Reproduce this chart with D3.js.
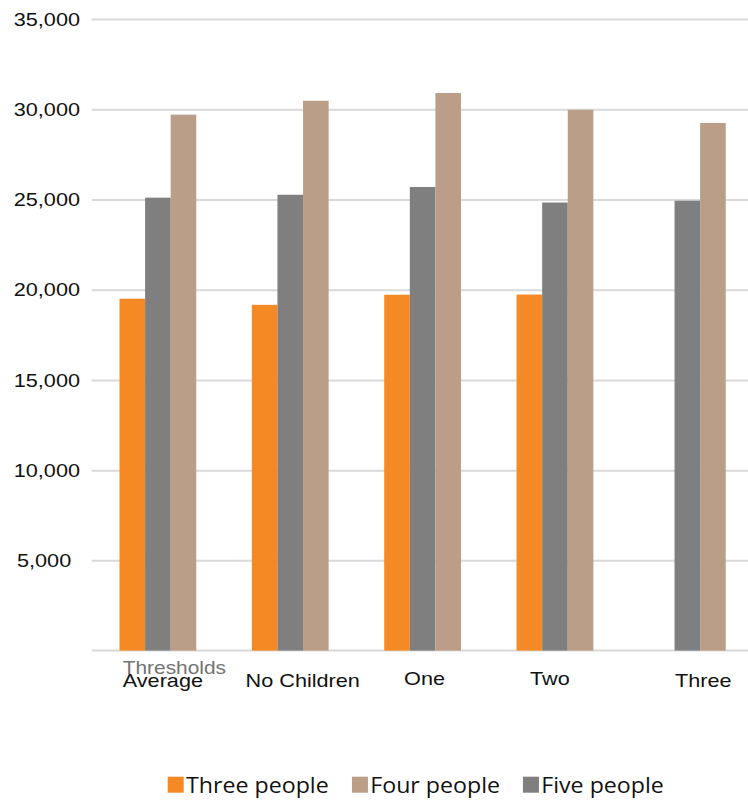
<!DOCTYPE html>
<html>
<head>
<meta charset="utf-8">
<script src="https://cdn.jsdelivr.net/npm/d3@7"></script>
<style>
  html, body { margin: 0; padding: 0; background: #fff; }
  svg { display: block; }
</style>
</head>
<body>
<svg id="chart" width="748" height="800"></svg>
<script>
// Household categories along the x axis
const categories = ["Average", "No Children", "One", "Two", "Three"];

// Threshold values per household size (null = no value)
const threePeople = [19500, 19160, 19720, 19730, null];
const fourPeople  = [29700, 30470, 30900, 29970, 29240];
const fivePeople  = [25100, 25260, 25690, 24830, 24930];

// Y axis ticks
const yTicks = [5000, 10000, 15000, 20000, 25000, 30000, 35000];

// Series definitions: bar order inside each group, and legend order
const series = [
  { key: "Three people", values: threePeople, color: "#F58A24" },
  { key: "Five people",  values: fivePeople,  color: "#7F7F80" },
  { key: "Four people",  values: fourPeople,  color: "#BA9E88" }
];
const legendOrder = ["Three people", "Four people", "Five people"];

// ---- layout ----
const W = 748, H = 800;
const plot = { left: 91.7, right: 753.5, top: 19, bottom: 650.6 };
const textStretch = 1.14;           // horizontal widening of the axis text
const labelNudge = [5, 12.5, 2, -5, 16];  // per-category label shift (px)
const labelBaseline = [687, 687, 685, 685, 687];

const svg = d3.select("#chart");

const y = d3.scaleLinear().domain([0, 35000]).range([plot.bottom, plot.top]);

const x0 = d3.scaleBand()
  .domain(categories)
  .range([plot.left, plot.right])
  .paddingInner(0.42)
  .paddingOuter(0.21);

const x1 = d3.scaleBand()
  .domain(series.map(s => s.key))
  .range([0, x0.bandwidth()]);

// widen text horizontally while keeping its anchor
function stretch(sel, k) {
  sel.each(function () {
    const len = this.getComputedTextLength();
    d3.select(this)
      .attr("textLength", len * k)
      .attr("lengthAdjust", "spacingAndGlyphs");
  });
}

// ---- gridlines and y labels ----
const yAxis = d3.axisLeft(y)
  .tickValues(yTicks)
  .tickSize(-(W - plot.left))
  .tickPadding(11.7)
  .tickFormat(d3.format(","));

const gy = svg.append("g")
  .attr("transform", `translate(${plot.left},0)`)
  .call(yAxis);

gy.select(".domain").remove();
gy.selectAll(".tick line")
  .attr("stroke", "#D9D9D9")
  .attr("stroke-width", 2);
gy.selectAll(".tick text")
  .attr("fill", "#111")
  .style("font-family", "'Liberation Sans', Arial, sans-serif")
  .style("font-size", "19px")
  .call(stretch, textStretch);
gy.selectAll(".tick")
  .filter(d => d === 5000)
  .select("text")
  .attr("x", -20.5);

// baseline
svg.append("line")
  .attr("x1", plot.left).attr("x2", W)
  .attr("y1", y(0)).attr("y2", y(0))
  .attr("stroke", "#D9D9D9")
  .attr("stroke-width", 2);

// ---- bars ----
const groups = svg.append("g").selectAll("g")
  .data(categories)
  .join("g")
  .attr("transform", d => `translate(${x0(d)},0)`);

groups.selectAll("rect")
  .data((d, i) => series
    .filter(s => s.values[i] != null)
    .map(s => ({ key: s.key, value: s.values[i], color: s.color })))
  .join("rect")
  .attr("x", d => x1(d.key))
  .attr("width", x1.bandwidth())
  .attr("y", d => y(d.value))
  .attr("height", d => y(0) - y(d.value))
  .attr("fill", d => d.color);

// ---- category labels ----
svg.append("g").selectAll("text")
  .data(categories)
  .join("text")
  .attr("x", (d, i) => x0(d) + x0.bandwidth() / 2 + labelNudge[i])
  .attr("y", (d, i) => labelBaseline[i])
  .attr("text-anchor", "middle")
  .attr("fill", "#111")
  .style("font-family", "'Liberation Sans', Arial, sans-serif")
  .style("font-size", "19px")
  .text(d => d)
  .call(stretch, textStretch);

// axis title sitting over the first category
svg.append("text")
  .attr("x", x0(categories[0]) + x0.bandwidth() / 2 + 16.5)
  .attr("y", 674)
  .attr("text-anchor", "middle")
  .attr("fill", "#737373")
  .style("font-family", "'Liberation Sans', Arial, sans-serif")
  .style("font-size", "19px")
  .text("Thresholds")
  .call(stretch, 1.1);

// ---- legend ----
const legend = svg.append("g").attr("transform", "translate(167.7,776.7)");
let lx = 0;
legendOrder.forEach(key => {
  const s = series.find(d => d.key === key);
  legend.append("rect")
    .attr("x", lx).attr("y", 0)
    .attr("width", 16).attr("height", 16)
    .attr("fill", s.color);
  const t = legend.append("text")
    .attr("x", lx + 18.3)
    .attr("y", 16)
    .attr("fill", "#111")
    .style("font-family", "'Open Sans', 'Noto Sans', sans-serif")
    .style("font-size", "22.5px")
    .text(key);
  t.call(stretch, 1.03);
  lx += 18.3 + t.node().getComputedTextLength() * 1.03 + 19;
});
</script>
</body>
</html>
